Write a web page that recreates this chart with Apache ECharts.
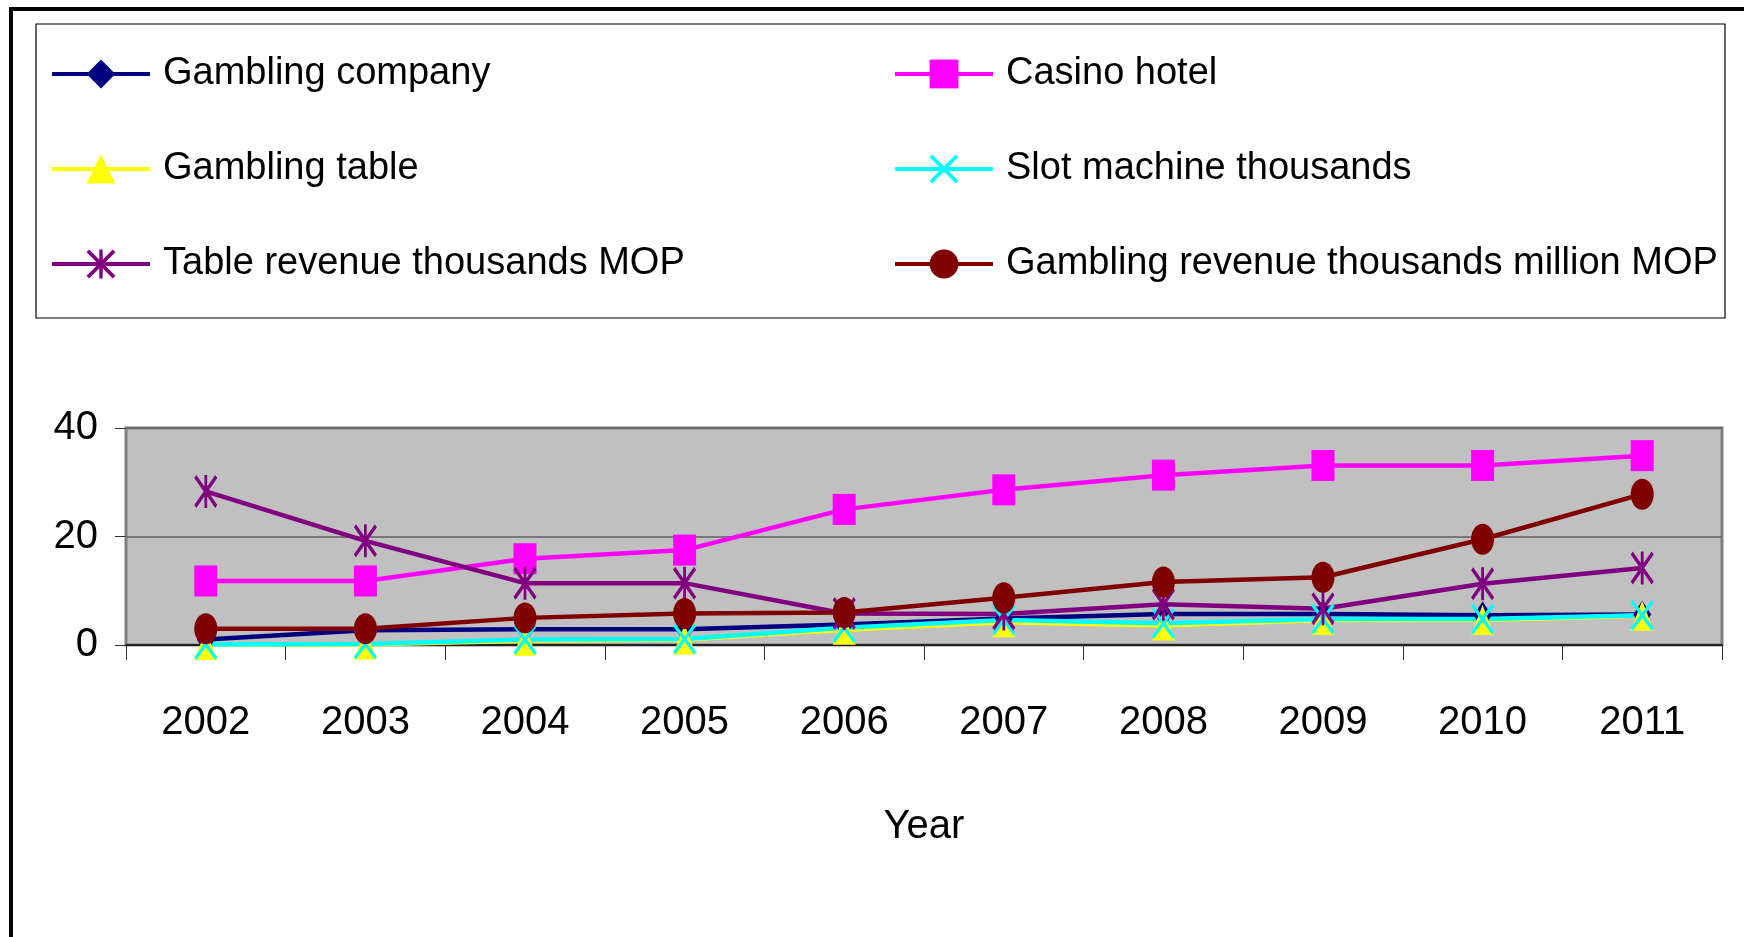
<!DOCTYPE html>
<html>
<head>
<meta charset="utf-8">
<script src="https://cdn.jsdelivr.net/npm/echarts@6/dist/echarts.min.js"></script>
<style>
    html, body { margin: 0; padding: 0; background: #fff; }
    #main { width: 1744px; height: 937px; }
</style>
</head>
<body>
<div id="main"></div>
<script>
    var years = ['2002', '2003', '2004', '2005', '2006', '2007', '2008', '2009', '2010', '2011'];
    var yTicks = [0, 20, 40];

    var gamblingCompany = [1, 2.7, 2.9, 2.9, 3.8, 4.9, 5.7, 5.7, 5.5, 5.6];
    var casinoHotel = [11.8, 11.8, 15.9, 17.5, 25, 28.6, 31.3, 33.1, 33.1, 34.9];
    var gamblingTable = [0, 0.1, 0.8, 1, 2.8, 4.2, 3.6, 4.6, 4.6, 5.4];
    var slotMachine = [0.1, 0.2, 1, 1.1, 3.2, 4.6, 4.0, 4.8, 4.8, 5.5];
    var tableRevenue = [28.3, 19.2, 11.4, 11.4, 5.8, 5.7, 7.5, 6.7, 11.3, 14.2];
    var gamblingRevenue = [3, 3, 5, 5.8, 6, 8.7, 11.6, 12.5, 19.5, 27.8];

    var FONT = "'Liberation Sans', Arial, sans-serif";

    // marker shapes (filled outlines)
    var crossPath = 'path://M0,0.9L0.9,0L10,9.1L9.1,10Z M9.1,0L10,0.9L0.9,10L0,9.1Z';
    var starPath = 'path://M0,0.9L0.9,0L10,9.1L9.1,10Z M9.1,0L10,0.9L0.9,10L0,9.1Z M4.4,0L5.6,0L5.6,10L4.4,10Z';

    function mkSeries(name, data, color, symbol, size) {
        return {
            name: name,
            type: 'line',
            data: data,
            symbol: symbol,
            symbolSize: size,
            showAllSymbol: true,
            lineStyle: {color: color, width: 4.5},
            itemStyle: {color: color},
            emphasis: {disabled: true},
            animation: false
        };
    }

    var chart = echarts.init(document.getElementById('main'));

    var legendCommon = {
        orient: 'vertical',
        top: 49,
        padding: 0,
        itemWidth: 98,
        itemHeight: 36,
        itemGap: 45,
        lineStyle: {width: 4},
        textStyle: {
            fontFamily: FONT,
            fontSize: 38,
            color: '#000',
            lineHeight: 50,
            padding: [0, 0, 0, 8]
        }
    };

    var option = {
        backgroundColor: '#fff',
        animation: false,
        legend: [
            Object.assign({}, legendCommon, {
                left: 50,
                data: ['Gambling company', 'Gambling table', 'Table revenue thousands MOP']
            }),
            Object.assign({}, legendCommon, {
                left: 893,
                data: ['Casino hotel', 'Slot machine thousands', 'Gambling revenue thousands million MOP']
            })
        ],
        graphic: [
            {
                type: 'rect',
                shape: {x: 11, y: 9, width: 1800, height: 1000},
                style: {fill: 'none', stroke: '#000', lineWidth: 4},
                silent: true
            },
            {
                type: 'rect',
                shape: {x: 36, y: 24, width: 1689, height: 294},
                style: {fill: 'none', stroke: '#000', lineWidth: 1.2},
                silent: true
            }
        ],
        grid: {
            left: 126,
            right: 22,
            top: 428,
            bottom: 292,
            show: true,
            backgroundColor: '#C0C0C0',
            borderColor: '#808080',
            borderWidth: 3
        },
        xAxis: {
            type: 'category',
            data: years,
            boundaryGap: true,
            name: 'Year',
            nameLocation: 'middle',
            nameGap: 162,
            nameTextStyle: {fontFamily: FONT, fontSize: 40, color: '#000'},
            axisLine: {lineStyle: {color: '#222', width: 2}},
            axisTick: {show: true, length: 15, lineStyle: {color: '#333', width: 1}},
            axisLabel: {fontFamily: FONT, fontSize: 40, color: '#000', margin: 58},
            splitLine: {show: false}
        },
        yAxis: {
            type: 'value',
            min: yTicks[0],
            max: yTicks[yTicks.length - 1],
            interval: 20,
            axisLine: {show: true, lineStyle: {color: '#808080', width: 2}},
            axisTick: {show: true, length: 11, lineStyle: {color: '#333', width: 1}},
            axisLabel: {fontFamily: FONT, fontSize: 40, color: '#000', margin: 28},
            splitLine: {show: true, lineStyle: {color: '#606060', width: 1.5}}
        },
        series: [
            mkSeries('Gambling company', gamblingCompany, '#000080', 'diamond', [18, 28]),
            mkSeries('Casino hotel', casinoHotel, '#FF00FF', 'rect', [23, 31]),
            mkSeries('Gambling table', gamblingTable, '#FFFF00', 'triangle', [23, 30]),
            mkSeries('Slot machine thousands', slotMachine, '#00FFFF', crossPath, [23, 31]),
            mkSeries('Table revenue thousands MOP', tableRevenue, '#800080', starPath, [23, 33]),
            mkSeries('Gambling revenue thousands million MOP', gamblingRevenue, '#800000', 'circle', [23, 31])
        ]
    };

    chart.setOption(option);
</script>
</body>
</html>
